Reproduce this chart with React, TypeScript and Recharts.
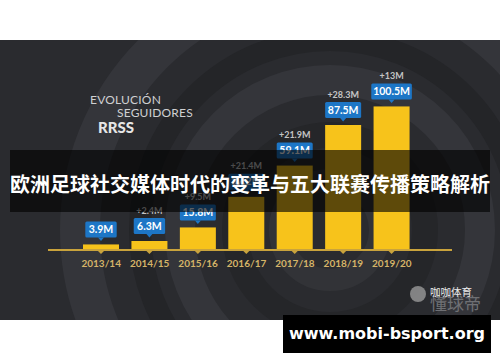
import React from 'react';
import { BarChart, Bar, XAxis, YAxis } from 'recharts';

const seasons = ['2013/14', '2014/15', '2015/16', '2016/17', '2017/18', '2018/19', '2019/20'];
const followers = [3.9, 6.3, 15.8, 37.2, 59.1, 87.5, 100.5];
const followerLabels = ['3.9M', '6.3M', '15.8M', '37.2M', '59.1M', '87.5M', '100.5M'];
const increments = ['', '+2.4M', '+9.5M', '+21.4M', '+21.9M', '+28.3M', '+13M'];

const data = seasons.map((season, i) => ({
  season,
  followers: followers[i],
  label: followerLabels[i],
  inc: increments[i],
}));

const YELLOW = '#f7c31b';
const GOLD = '#c9a33c';
const BLUE = '#1d76c6';
const NUM_FONT = 'Lato, "Open Sans", sans-serif';

// bar + baseline notch + blue value tag + increment text
const TaggedBar = (props: any) => {
  const { x, y, width, height, payload } = props;
  const cx = x + width / 2;
  const base = y + height;
  const boxW = 13 + payload.label.length * 4.6;
  const boxH = 16;
  const boxBottom = y - 7;
  const boxTop = boxBottom - boxH;
  return (
    <g>
      <rect x={x} y={y} width={width} height={height} fill={YELLOW} />
      <path d={`M${cx - 4},${base} L${cx + 4},${base} L${cx},${base + 4} Z`} fill={GOLD} />
      <rect x={cx - boxW / 2} y={boxTop} width={boxW} height={boxH} rx={1.5} fill={BLUE} />
      <path d={`M${cx - 3},${boxBottom} L${cx + 3},${boxBottom} L${cx},${boxBottom + 3.5} Z`} fill={BLUE} />
      <text x={cx} y={boxTop + boxH / 2 + 3.6} textAnchor="middle" fill="#ffffff"
        fontFamily={NUM_FONT} fontWeight={700} fontSize={10.5}>
        {payload.label}
      </text>
      {payload.inc ? (
        <text x={cx} y={boxTop - 4.5} textAnchor="middle" fill="#c4c4c4"
          fontFamily={NUM_FONT} fontWeight={700} fontSize={9}>
          {payload.inc}
        </text>
      ) : null}
    </g>
  );
};

function Backdrop() {
  return (
    <svg width={500} height={280} style={{ position: 'absolute', left: 0, top: 40 }}>
      <rect width={500} height={280} fill="#2a2b2f" />
      <g fill="none">
        <circle cx={330} cy={190} r={250} stroke="#34353a" strokeWidth={40} />
        <circle cx={330} cy={190} r={190} stroke="#242528" strokeWidth={22} />
        <circle cx={330} cy={190} r={150} stroke="#34353a" strokeWidth={30} />
        <circle cx={330} cy={190} r={95} stroke="#252629" strokeWidth={26} />
        <circle cx={330} cy={190} r={50} stroke="#323337" strokeWidth={22} />
      </g>
    </svg>
  );
}

export default function App() {
  return (
    <div style={{ position: 'relative', width: 500, height: 362, background: '#ffffff', overflow: 'hidden' }}>
      <style>{'body{margin:0}'}</style>
      <Backdrop />

      {/* heading */}
      <div style={{ position: 'absolute', left: 90, top: 93, color: '#cfd0d2', fontFamily: NUM_FONT, fontSize: 12, lineHeight: '13px', letterSpacing: 0.2 }}>
        EVOLUCIÓN
      </div>
      <div style={{ position: 'absolute', left: 117, top: 106, color: '#cfd0d2', fontFamily: NUM_FONT, fontSize: 12, lineHeight: '13px', letterSpacing: 0.2 }}>
        SEGUIDORES
      </div>
      <div style={{ position: 'absolute', left: 98, top: 119, color: '#e6e6e6', fontFamily: NUM_FONT, fontWeight: 900, fontSize: 15, lineHeight: '17px' }}>
        RRSS
      </div>

      <div style={{ position: 'absolute', left: 0, top: 0 }}>
        <BarChart width={500} height={362} data={data} margin={{ top: 50, right: 48, bottom: 0, left: 48 }}>
          <YAxis hide domain={[0, 140]} />
          <XAxis
            dataKey="season"
            height={112}
            padding={{ left: 29, right: 36 }}
            axisLine={{ stroke: GOLD, strokeWidth: 2 }}
            tickLine={false}
            tickMargin={4}
            tick={{ fill: '#d5b468', fontSize: 10, fontWeight: 700, fontFamily: NUM_FONT }}
            interval={0}
          />
          <Bar dataKey="followers" barSize={36} shape={TaggedBar} isAnimationActive={false} />
        </BarChart>
      </div>

      {/* watermark */}
      <div style={{ position: 'absolute', left: 410, top: 286, width: 16, height: 16, borderRadius: 8, background: '#9a9a9a', opacity: 0.8 }} />
      <div style={{ position: 'absolute', left: 430, top: 294, color: '#6f7074', fontFamily: '"Noto Sans CJK SC", sans-serif', fontSize: 17, lineHeight: '18px' }}>
        懂球帝
      </div>
      <div style={{ position: 'absolute', left: 430, top: 286, color: '#ececec', fontFamily: '"Noto Sans CJK SC", sans-serif', fontSize: 10.5, lineHeight: '12px' }}>
        咖咖体育
      </div>

      {/* title overlay */}
      <div style={{ position: 'absolute', left: 10, top: 150, width: 480, height: 62, background: 'rgba(0,0,0,0.62)' }} />
      <div style={{ position: 'absolute', left: 10, top: 171, width: 480, color: '#ffffff', fontFamily: '"Noto Sans CJK SC", sans-serif', fontWeight: 700, fontSize: 20, lineHeight: '26px', whiteSpace: 'nowrap' }}>
        欧洲足球社交媒体时代的变革与五大联赛传播策略解析
      </div>

      {/* site badge */}
      <div style={{ position: 'absolute', left: 283, top: 315, width: 208, height: 38, background: '#000000', color: '#ffffff', fontFamily: '"DejaVu Sans", sans-serif', fontWeight: 700, fontSize: 16, lineHeight: '38px', textAlign: 'center' }}>
        www.mobi-bsport.org
      </div>
    </div>
  );
}
